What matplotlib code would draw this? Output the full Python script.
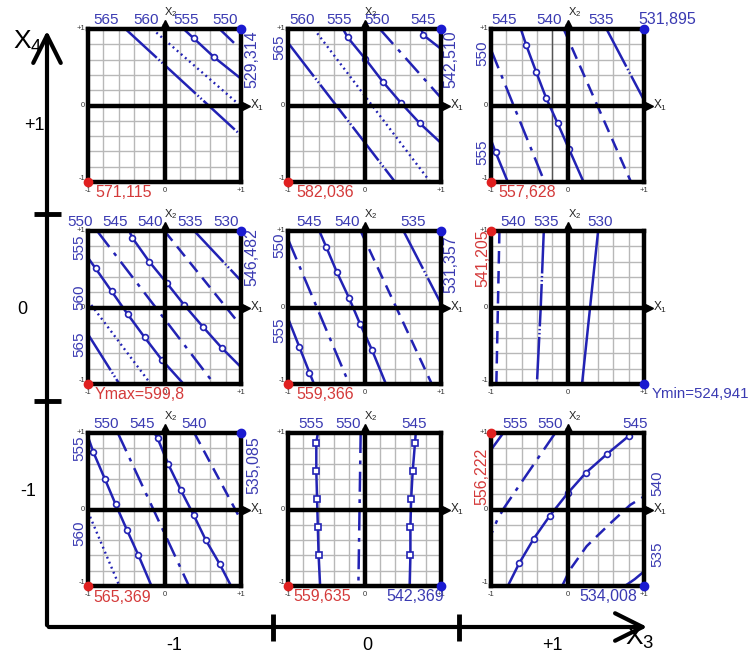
import matplotlib
matplotlib.use('Agg')
import matplotlib.pyplot as plt
from matplotlib.lines import Line2D
from matplotlib.patches import FancyArrowPatch

plt.rcParams['font.family'] = ['Liberation Sans', 'DejaVu Sans']
plt.rcParams['mathtext.fontset'] = 'custom'
plt.rcParams['mathtext.rm'] = 'Liberation Sans'
plt.rcParams['mathtext.it'] = 'Liberation Sans'

LINE_BLUE = '#2222b4'
TEXT_BLUE = '#3a3ab2'
RED = '#d43a3a'

# ---------------- data ----------------
x3_labels = ['-1', '0', '+1']
x4_labels = ['+1', '0', '-1']

# row 1 (X4=+1), col 1 (X3=-1)
p11_levels = [565, 560, 555, 550]
p11_x = [[-0.51, 1.0], [-0.16, 1.0], [0.25, 0.38, 0.65, 1.0], [0.72, 1.0]]
p11_y = [[1.0, -0.39], [1.0, -0.01], [1.0, 0.88, 0.63, 0.35], [1.0, 0.73]]
p11_top = [565, 560, 555, 550]
p11_left = []
p11_right = []
p11_max = 571.115
p11_min = 529.314

# row 1, col 2
p12_levels = [565, 560, 555, 550, 545]
p12_x = [[-1.0, 0.40], [-0.66, 0.86], [-0.28, -0.22, 0.01, 0.24, 0.48, 0.72, 1.0], [0.20, 1.0], [0.74, 0.77, 1.0]]
p12_y = [[0.82, -1.0], [1.0, -1.0], [1.0, 0.89, 0.61, 0.31, 0.03, -0.23, -0.49], [1.0, 0.10], [1.0, 0.92, 0.74]]
p12_top = [560, 555, 550, 545]
p12_left = [565]
p12_right = []
p12_max = 582.036
p12_min = 542.510

# row 1, col 3
p13_levels = [550, 545, 540, 535, 555]
p13_x = [[-1.0, -0.30], [-0.61, -0.54, -0.41, -0.28, -0.13, 0.02, 0.21], [-0.05, 0.83], [0.51, 1.0], [-1.0, -0.94, -0.78]]
p13_y = [[0.73, -1.0], [1.0, 0.79, 0.44, 0.10, -0.23, -0.57, -1.0], [1.0, -1.0], [1.0, 0.07], [-0.45, -0.61, -1.0]]
p13_top = [545, 540, 535]
p13_left = [550, 555]
p13_right = []
p13_max = 557.628
p13_min = 531.895

# row 2 (X4=0), col 1
p21_levels = [550, 545, 540, 535, 555, 560, 565]
p21_x = [[-0.88, 0.65], [-0.46, -0.42, -0.20, 0.03, 0.26, 0.50, 0.75, 1.0], [0.0, 1.0], [0.39, 1.0],
         [-1.0, -0.90, -0.69, -0.48, -0.26, -0.03, 0.25], [-1.0, -0.18], [-1.0, -0.59]]
p21_y = [[1.0, -1.0], [1.0, 0.91, 0.60, 0.32, 0.03, -0.25, -0.53, -0.78], [1.0, -0.24], [1.0, 0.35],
         [0.65, 0.51, 0.21, -0.09, -0.39, -0.69, -1.0], [0.09, -1.0], [-0.35, -1.0]]
p21_top = [550, 545, 540, 535, 530]
p21_left = [555, 560, 565]
p21_right = []
p21_max = 599.8
p21_min = 546.482

# row 2, col 2
p22_levels = [550, 545, 540, 535, 555]
p22_x = [[-0.99, -0.20], [-0.59, -0.50, -0.36, -0.20, -0.06, 0.10, 0.28], [-0.05, 0.88], [0.51, 1.0],
         [-1.0, -0.85, -0.72, -0.66]]
p22_y = [[0.87, -1.0], [1.0, 0.79, 0.46, 0.12, -0.21, -0.56, -1.0], [1.0, -1.0], [1.0, 0.05],
         [-0.14, -0.52, -0.85, -1.0]]
p22_top = [545, 540, 535]
p22_left = [550, 555]
p22_right = []
p22_max = 559.366
p22_min = 531.357

# row 2, col 3
p23_levels = [540, 535, 530]
p23_x = [[-0.89, -0.93], [-0.31, -0.35, -0.40], [0.40, 0.19]]
p23_y = [[1.0, -1.0], [1.0, 0.0, -1.0], [1.0, -1.0]]
p23_top = [540, 535, 530]
p23_left = []
p23_right = []
p23_max = 541.205
p23_min = 524.941

# row 3 (X4=-1), col 1
p31_levels = [555, 550, 545, 540, 560]
p31_x = [[-1.0, -0.93, -0.78, -0.64, -0.49, -0.34, -0.17], [-0.61, 0.32],
         [-0.13, -0.09, 0.05, 0.21, 0.38, 0.54, 0.72, 0.87], [0.39, 1.0], [-1.0, -0.59]]
p31_y = [[0.95, 0.75, 0.40, 0.07, -0.27, -0.60, -1.0], [1.0, -1.0],
         [1.0, 0.93, 0.59, 0.26, -0.07, -0.40, -0.71, -1.0], [1.0, -0.14], [-0.03, -1.0]]
p31_top = [550, 545, 540]
p31_left = [555, 560]
p31_right = []
p31_max = 565.369
p31_min = 535.085

# row 3, col 2
p32_levels = [555, 550, 545]
p32_x = [[-0.61, -0.63, -0.63, -0.62, -0.61, -0.60, -0.58], [-0.05, -0.08],
         [0.67, 0.66, 0.63, 0.61, 0.60, 0.60, 0.59]]
p32_y = [[1.0, 0.87, 0.50, 0.14, -0.23, -0.60, -1.0], [1.0, -1.0],
         [1.0, 0.87, 0.50, 0.14, -0.23, -0.60, -1.0]]
p32_top = [555, 550, 545]
p32_left = []
p32_right = []
p32_max = 559.635
p32_min = 542.369

# row 3, col 3
p33_levels = [555, 550, 545, 540, 535]
p33_x = [[-1.0, -0.84], [-0.16, -0.40, -0.64, -0.83, -0.92, -1.0],
         [-0.78, -0.63, -0.44, -0.23, 0.0, 0.24, 0.51, 0.80, 0.84],
         [-0.07, 0.03, 0.25, 0.56, 0.82, 1.0], [0.75, 0.88, 1.0]]
p33_y = [[0.78, 1.0], [1.0, 0.65, 0.30, 0.02, -0.14, -0.33],
         [-1.0, -0.70, -0.38, -0.08, 0.21, 0.48, 0.72, 0.96, 1.0],
         [-1.0, -0.79, -0.48, -0.18, 0.06, 0.17], [-1.0, -0.91, -0.81]]
p33_top = [555, 550, 545]
p33_left = []
p33_right = [540, 535]
p33_max = 556.222
p33_min = 534.008

# ---------------- styles / layout ----------------
LONG_DD = (0, (17, 1.0, 0.6, 1.0, 0.6, 1.0))
STYLE = {
    565: dict(ls=LONG_DD, marker=None, lw=1.8),
    560: dict(ls=(0, (0.8, 1.5)), marker=None, lw=1.7),
    555: dict(ls='-', marker='o', lw=1.8),
    550: dict(ls=(0, (8, 3, 1.5, 3)), marker=None, lw=1.8),
    545: dict(ls='-', marker='o', lw=1.8),
    540: dict(ls=(0, (5, 3)), marker=None, lw=1.8),
    535: dict(ls=LONG_DD, marker=None, lw=1.8),
    530: dict(ls='-', marker=None, lw=1.8),
}

W, H = 756, 654
fig = plt.figure(figsize=(W / 100, H / 100), dpi=100)

col_left = [88, 288, 491]
row_top = [29, 231, 433]
PW, PH = 153, 153


def fpx(x, y):
    return (x / W, 1 - y / H)


def fmt(v):
    return ('%.3f' % v).replace('.', ',')


top_pos = {
    (0, 0): [-0.76, -0.24, 0.28, 0.79],
    (0, 1): [-0.81, -0.33, 0.17, 0.77],
    (0, 2): [-0.83, -0.24, 0.44],
    (1, 0): [-1.10, -0.65, -0.19, 0.33, 0.80],
    (1, 1): [-0.72, -0.23, 0.64],
    (1, 2): [-0.71, -0.28, 0.43],
    (2, 0): [-0.76, -0.29, 0.39],
    (2, 1): [-0.70, -0.22, 0.65],
    (2, 2): [-0.68, -0.23, 0.88],
}
left_pos = {
    (0, 1): [0.76],
    (0, 2): [0.68, -0.61],
    (1, 0): [0.79, 0.13, -0.48],
    (1, 1): [0.82, -0.30],
    (2, 0): [0.80, -0.31],
}
right_pos = {(2, 2): [0.34, -0.59]}

panels = {
    (0, 0): (p11_levels, p11_x, p11_y, p11_top, p11_left, p11_right, p11_max, p11_min),
    (0, 1): (p12_levels, p12_x, p12_y, p12_top, p12_left, p12_right, p12_max, p12_min),
    (0, 2): (p13_levels, p13_x, p13_y, p13_top, p13_left, p13_right, p13_max, p13_min),
    (1, 0): (p21_levels, p21_x, p21_y, p21_top, p21_left, p21_right, p21_max, p21_min),
    (1, 1): (p22_levels, p22_x, p22_y, p22_top, p22_left, p22_right, p22_max, p22_min),
    (1, 2): (p23_levels, p23_x, p23_y, p23_top, p23_left, p23_right, p23_max, p23_min),
    (2, 0): (p31_levels, p31_x, p31_y, p31_top, p31_left, p31_right, p31_max, p31_min),
    (2, 1): (p32_levels, p32_x, p32_y, p32_top, p32_left, p32_right, p32_max, p32_min),
    (2, 2): (p33_levels, p33_x, p33_y, p33_top, p33_left, p33_right, p33_max, p33_min),
}

corner_spec = {
    (0, 0): ((-1, -1), (-0.54, -1.14), 0, (1, 1), (1.14, 0.60), 90),
    (0, 1): ((-1, -1), (-0.51, -1.14), 0, (1, 1), (1.13, 0.61), 90),
    (0, 2): ((-1, -1), (-0.53, -1.14), 0, (1, 1), (1.30, 1.12), 0),
    (1, 0): ((-1, -1), (-0.33, -1.14), 0, (1, 1), (1.14, 0.66), 90),
    (1, 1): ((-1, -1), (-0.51, -1.14), 0, (1, 1), (1.13, 0.56), 90),
    (1, 2): ((-1, 1), (-1.10, 0.64), 90, (1, -1), (1.10, -1.13), 0),
    (2, 0): ((-1, -1), (-0.55, -1.15), 0, (1, 1), (1.17, 0.58), 90),
    (2, 1): ((-1, -1), (-0.55, -1.14), 0, (1, -1), (0.66, -1.14), 0),
    (2, 2): ((-1, 1), (-1.12, 0.43), 90, (1, -1), (0.53, -1.14), 0),
}

grid_vals = [-0.8, -0.6, -0.4, -0.2, 0.2, 0.4, 0.6, 0.8]

for (r, c), (levels, xs, ys, tops, lefts, rights, vmax, vmin) in panels.items():
    l = col_left[c]
    t = row_top[r]
    ax = fig.add_axes([l / W, 1 - (t + PH) / H, PW / W, PH / H])
    ax.set_xlim(-1, 1)
    ax.set_ylim(-1, 1)
    ax.set_xticks([])
    ax.set_yticks([])
    for s in ax.spines.values():
        s.set_linewidth(3.2)
        s.set_color('black')
        s.set_zorder(6)
    for g in grid_vals:
        ax.axvline(g, color='#b8b8b8', lw=1.0, zorder=1)
        ax.axhline(g, color='#b8b8b8', lw=1.0, zorder=1)
    if (r, c) == (0, 2):
        ax.axvline(-0.2, color='#555555', lw=1.0, zorder=1.5)
    ax.plot([0, 0], [-1, 1.06], color='black', lw=3.2, clip_on=False, zorder=5,
            solid_capstyle='butt')
    ax.plot([-1, 1.06], [0, 0], color='black', lw=3.2, clip_on=False, zorder=5,
            solid_capstyle='butt')
    ax.plot([0], [1.06], marker='^', color='black', ms=6, clip_on=False, zorder=5)
    ax.plot([1.06], [0], marker='>', color='black', ms=6, clip_on=False, zorder=5)
    ax.text(0.0, 1.13, r'X$_2$', fontsize=8, ha='left', va='bottom', color='#222222',
            clip_on=False)
    ax.text(1.12, 0.0, r'X$_1$', fontsize=8.5, ha='left', va='center', color='#222222',
            clip_on=False)
    tk = dict(fontsize=5.5, color='#333333', clip_on=False)
    ax.text(-1.04, 1.0, '+1', ha='right', va='center', **tk)
    ax.text(-1.04, 0.0, '0', ha='right', va='center', **tk)
    ax.text(-1.04, -0.95, '-1', ha='right', va='center', **tk)
    ax.text(-1.0, -1.06, '-1', ha='center', va='top', **tk)
    ax.text(0.0, -1.06, '0', ha='center', va='top', **tk)
    ax.text(1.0, -1.06, '+1', ha='center', va='top', **tk)
    for lev, lx, ly in zip(levels, xs, ys):
        st = STYLE[lev]
        mk = st['marker']
        if mk and (r, c) == (2, 1):
            mk = 's'
        ax.plot(lx, ly, color=LINE_BLUE, lw=st['lw'], linestyle=st['ls'], zorder=4,
                marker=mk, ms=4.2, mfc='white', mec=LINE_BLUE, mew=1.2,
                markevery=slice(1, -1) if mk else None)
    lab = dict(fontsize=11, color=TEXT_BLUE, clip_on=False)
    for v, p in zip(tops, top_pos.get((r, c), [])):
        ax.text(p, 1.12, str(v), ha='center', va='center', **lab)
    for v, p in zip(lefts, left_pos.get((r, c), [])):
        ax.text(-1.11, p, str(v), ha='center', va='center', rotation=90, **lab)
    for v, p in zip(rights, right_pos.get((r, c), [])):
        ax.text(1.17, p, str(v), ha='center', va='center', rotation=90, **lab)
    cmax, pmax, rmax, cmin, pmin, rmin = corner_spec[(r, c)]
    ax.plot([cmax[0]], [cmax[1]], 'o', color='#e02020', ms=6, clip_on=False, zorder=7)
    ax.plot([cmin[0]], [cmin[1]], 'o', color='#1a1ad0', ms=6, clip_on=False, zorder=7)
    smax = 'Ymax=599,8' if (r, c) == (1, 0) else fmt(vmax)
    smin = 'Ymin=524,941' if (r, c) == (1, 2) else fmt(vmin)
    ax.text(pmax[0], pmax[1], smax, fontsize=11.5, color=RED, rotation=rmax,
            ha='center', va='center', clip_on=False)
    ha_min = 'left' if (r, c) == (1, 2) else 'center'
    ax.text(pmin[0], pmin[1], smin, fontsize=10.8 if (r, c) == (1, 2) else 11.5,
            color=TEXT_BLUE, rotation=rmin, ha=ha_min, va='center', clip_on=False)

# ---------------- outer X3 / X4 axes ----------------
def fig_line(x0, y0, x1, y1, lw=3):
    fig.add_artist(Line2D([x0 / W, x1 / W], [1 - y0 / H, 1 - y1 / H],
                          transform=fig.transFigure, color='black', lw=lw,
                          solid_capstyle='butt'))


fig.add_artist(FancyArrowPatch(fpx(47, 628), fpx(47, 28), transform=fig.transFigure,
                               arrowstyle='->,head_length=0.9,head_width=0.45',
                               mutation_scale=22, lw=3, color='black'))
fig.add_artist(FancyArrowPatch(fpx(46, 627), fpx(650, 627), transform=fig.transFigure,
                               arrowstyle='->,head_length=0.9,head_width=0.45',
                               mutation_scale=22, lw=3, color='black'))
for yy in [214, 401]:
    fig_line(34, yy, 61, yy, lw=3.5)
for xx in [273, 459]:
    fig_line(xx, 614, xx, 641, lw=3.5)

for lab, yy, xx in zip(x4_labels, [125, 310, 492], [34, 22, 28]):
    fig.text(xx / W, 1 - yy / H, lab, fontsize=13, ha='center', va='center')
for lab, xx in zip(x3_labels, [174, 367, 552]):
    fig.text(xx / W, 1 - 645 / H, lab, fontsize=13, ha='center', va='center')
fig.text(28 / W, 1 - 42 / H, r'X$_4$', fontsize=19, ha='center', va='center')
fig.text(640 / W, 1 - 638 / H, r'X$_3$', fontsize=19, ha='center', va='center')

fig.savefig('out.png', dpi=100, facecolor='white')
